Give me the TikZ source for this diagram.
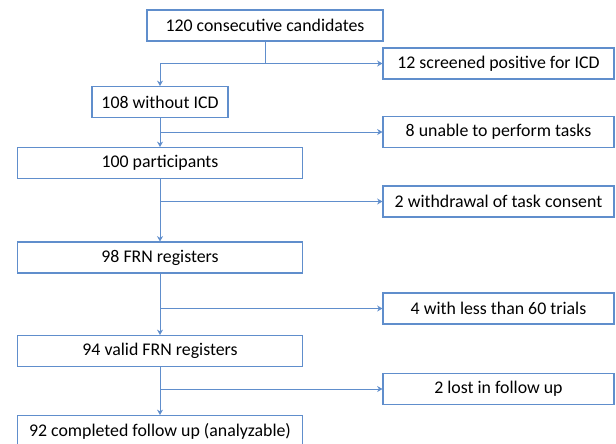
\documentclass[tikz,border=0pt]{standalone}
\usepackage{fontspec}
\setmainfont{Carlito}
\usepackage{tikz}
\usetikzlibrary{arrows.meta,positioning,calc}
\definecolor{lineblue}{RGB}{96,142,204}
\tikzset{
  mainbox/.style={
    rectangle,
    draw=lineblue,
    line width=0.65pt,
    minimum width=171pt,
    minimum height=18.6pt,
    inner sep=0pt,
    align=center,
    font=\fontsize{10.7}{12.8}\selectfont,
    fill=white
  },
  sidebox/.style={
    mainbox,
    minimum width=138.6pt
  },
  flow/.style={-{Stealth[length=3.2pt,width=3.6pt]}, line width=0.6pt, lineblue},
  link/.style={line width=0.6pt, lineblue}
}

\begin{document}
\begin{tikzpicture}[x=0.6pt,y=-0.6pt]
\useasboundingbox (0,0) rectangle (616,443);
% main column
\node[mainbox, minimum width=141.6pt] (cand) at (265,25.5) {120 consecutive candidates};
\node[mainbox, minimum width=81.6pt] (noicd) at (160,102) {108 without ICD};
\node[mainbox] (part) at (160,163) {100 participants};
\node[mainbox] (frn) at (160,257.5) {98 FRN registers};
\node[mainbox] (valid) at (160,351) {94 valid FRN registers};
\node[mainbox] (done) at (160,431) {92 completed follow up (analyzable)};
% excluded
\node[sidebox] (icd) at (498.5,63.5) {12 screened positive for ICD};
\node[sidebox] (unable) at (498.5,132) {8 unable to perform tasks};
\node[sidebox] (withdraw) at (498.5,201.5) {2 withdrawal of task consent};
\node[sidebox] (trials) at (498.5,308.5) {4 with less than 60 trials};
\node[sidebox] (lost) at (498.5,389) {2 lost in follow up};
% connectors
\coordinate (split) at (cand.south |- icd.west);
\draw[link] (cand) -- (split);
\draw[flow] (noicd.north |- split) -- (icd);
\draw[flow] (noicd.north |- split) -- (noicd);
\draw[flow] (noicd) -- (part);
\draw[flow] (part) -- (frn);
\draw[flow] (frn) -- (valid);
\draw[flow] (valid) -- (done);
\foreach \from/\to in {noicd/unable, part/withdraw, frn/trials, valid/lost}
  \draw[flow] (\from.south |- \to.west) -- (\to);
\end{tikzpicture}
\end{document}
